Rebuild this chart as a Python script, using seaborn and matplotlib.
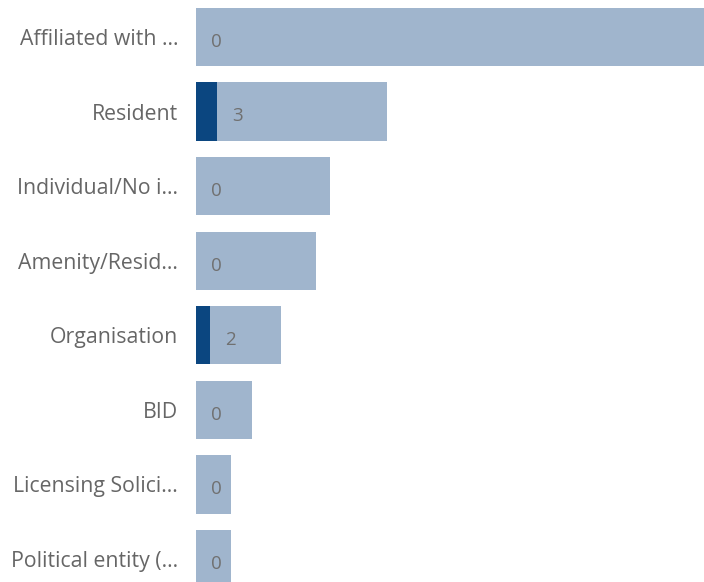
import matplotlib
matplotlib.use("Agg")
import matplotlib.pyplot as plt
import seaborn as sns
import pandas as pd

categories = ["Affiliated with ...", "Resident", "Individual/No i...", "Amenity/Resid...",
              "Organisation", "BID", "Licensing Solici...", "Political entity (..."]
totals = [72, 27, 19, 17, 12, 8, 5, 5]
highlighted = [0, 3, 0, 0, 2, 0, 0, 0]

df = pd.DataFrame({"category": categories, "total": totals, "highlighted": highlighted})

sns.set_theme(style="white")
plt.rcParams["font.family"] = ["Open Sans", "DejaVu Sans"]

fig = plt.figure(figsize=(7.04, 5.82), dpi=100)
ax = fig.add_axes([195.5 / 704, 0, 508.5 / 704, 1])

sns.barplot(data=df, y="category", x="total", orient="h", color="#A0B5CD",
            width=0.78, saturation=1, linewidth=0, ax=ax)
sns.barplot(data=df, y="category", x="highlighted", orient="h", color="#0B4680",
            width=0.78, saturation=1, linewidth=0, ax=ax)

for i, v in enumerate(highlighted):
    ax.annotate(str(v), xy=(v, i), xytext=(15, -3.5), textcoords="offset points",
                ha="center", va="center", fontsize=13.5, color="#707070")

ax.set_xlim(0, 71.6)
ax.set_ylim(7.308, -0.496)
ax.set_xlabel("")
ax.set_ylabel("")
ax.set_xticks([])
ax.tick_params(axis="y", length=0, pad=12.5, labelsize=15.3, labelcolor="#666666")
for s in ax.spines.values():
    s.set_visible(False)

fig.savefig("out.png", dpi=100)
